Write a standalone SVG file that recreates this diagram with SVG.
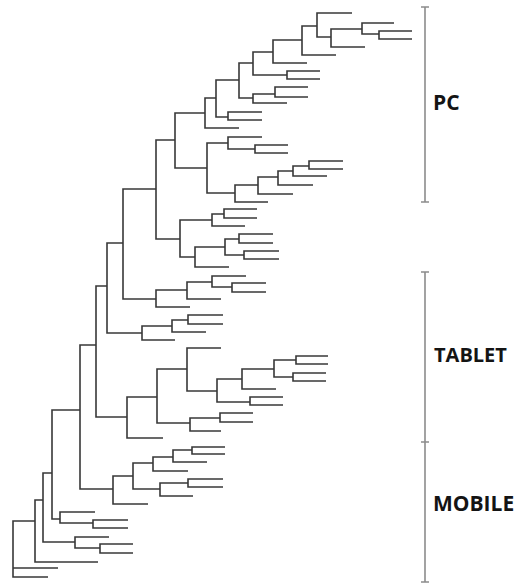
<svg xmlns="http://www.w3.org/2000/svg" width="517" height="583" viewBox="0 0 517 583">
<style>
.t{fill:none;stroke:#383838;stroke-width:1.6;stroke-linejoin:miter;stroke-linecap:butt}
.b{fill:none;stroke:#8c8c8c;stroke-width:1.6}
.l{font-family:"Open Sans","Liberation Sans",sans-serif;font-weight:bold;fill:#141414}
</style>
<rect width="517" height="583" fill="#ffffff"/>
<g id="connectors" class="t">
<path d="M352 13H317V37H331M362 29H331V47H365M394 23H362V34H379M412 31H379V39H412M317 26H302V55H336M302 40H273V63H307M273 52H253V75H287M320 71H287V79H320M253 63H239V98H253M275 94H253V103H287M308 87H275V97H308M239 80H216V117H228M262 112H228V120H262M216 98H205V128H239M205 113H175V168H207M228 143H207V193H235M262 137H228V149H255M288 145H255V153H288M258 185H235V202H268M278 177H258V194H293M293 171H278V185H313M309 166H293V176H327M343 161H309V169H343"/>
<path d="M175 140H156V239H180M212 220H180V257H195M224 214H212V226H245M257 209H224V218H257M225 247H195V267H229M239 239H225V255H244M273 234H239V243H273M279 251H244V259H279"/>
<path d="M156 189H123V299H156M187 290H156V307H190M212 282H187V299H221M246 276H212V287H232M266 283H232V292H266M123 243H107V333H142M172 326H142V340H175M188 320H172V332H206M223 315H188V324H223M107 286H96V417H127M96 345H80V489H113"/>
<path d="M157 397H127V438H163M187 369H157V423H190M221 348H187V391H217M242 379H217V402H250M274 369H242V389H276M296 360H274V377H293M328 356H296V364H328M326 373H293V381H326M283 397H250V405H283M220 418H190V431H221M253 413H220V422H253"/>
<path d="M133 476H113V504H148M153 463H133V489H160M173 457H153V471H188M192 450H173V462H207M225 447H192V454H225M188 483H160V496H193M223 479H188V487H223"/>
<path d="M80 410H52V519H60M95 512H60V523H93M128 520H93V528H128M52 473H43V542H75M109 537H75V548H100M133 544H100V553H133M43 500H35V562H98M35 521H13V577H48M13 568H58"/>
</g>
<g id="pc">
<path class="b" d="M425 7V202M421 7H429M421 202H429"/>
<text class="l" x="433" y="110" font-size="21">PC</text>
</g>
<g id="tablet">
<path class="b" d="M425 272V442M421 272H429M421 442H429"/>
<text class="l" x="434" y="362" font-size="20">TABLET</text>
</g>
<g id="mobile">
<path class="b" d="M425 442V582M421 582H429"/>
<text class="l" x="433" y="511" font-size="21">MOBILE</text>
</g>
</svg>
